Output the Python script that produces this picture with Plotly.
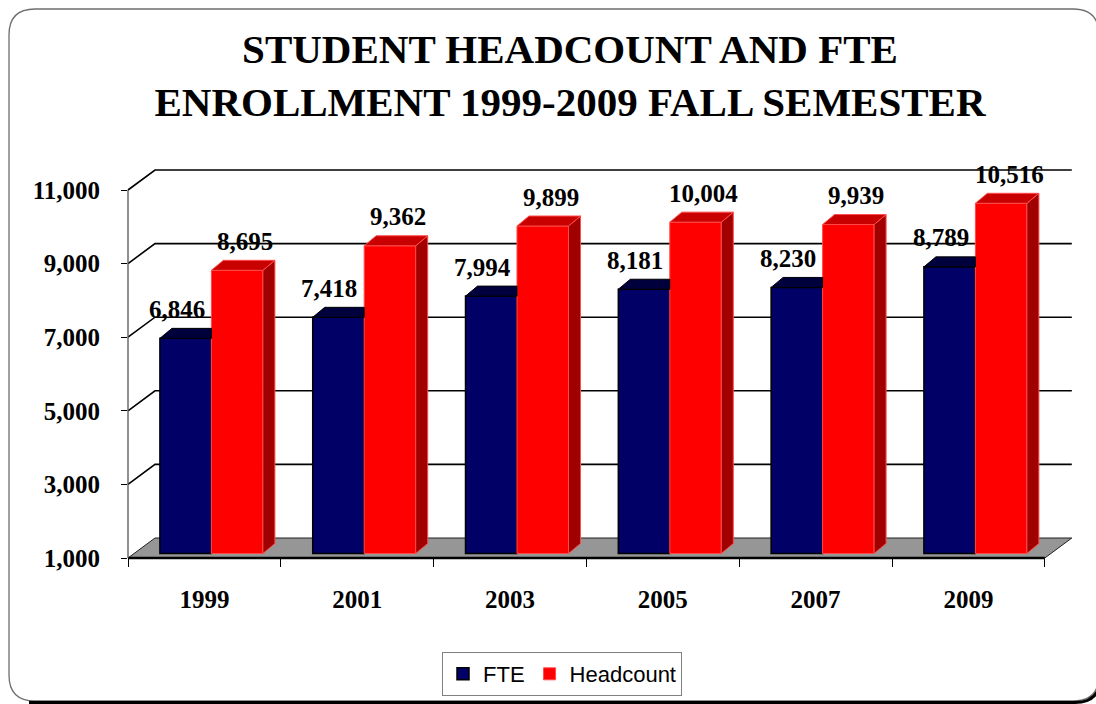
import plotly.graph_objects as go

# ---- data -------------------------------------------------------------
years = ["1999", "2001", "2003", "2005", "2007", "2009"]
fte = [6846, 7418, 7994, 8181, 8230, 8789]
headcount = [8695, 9362, 9899, 10004, 9939, 10516]
y_ticks = [1000, 3000, 5000, 7000, 9000, 11000]

# ---- canvas / axis geometry ------------------------------------------
W, H = 1096, 704
M_L, M_R, M_T, M_B = 128, 21, 160, 146
PX_PER_CAT = 152.8        # pixels per category slot
PX_PER_1000 = 36.8        # pixels per 1,000 students
plot_w = W - M_L - M_R
plot_h = H - M_T - M_B

x_lo = -0.5
x_hi = x_lo + plot_w / PX_PER_CAT
y_lo = 1000
y_hi = y_lo + plot_h / PX_PER_1000 * 1000


def ddx(px):
    return px / PX_PER_CAT


def ddy(px):
    return px / PX_PER_1000 * 1000


# oblique depth of the floor / back wall and of the bars
FLOOR_DX, FLOOR_DY = ddx(27), ddy(20)
BAR_OFF_X, BAR_OFF_Y = ddx(7), ddy(4.5)
BAR_DX, BAR_DY = ddx(12), ddy(10)
BAR_W = 0.337

n = len(years)
x_last = n - 0.5


# data -> paper coordinates (paper shapes are not clipped)
def xp(x):
    return (x - x_lo) / (x_hi - x_lo)


def yp(y):
    return (y - y_lo) / (y_hi - y_lo)


# pixel -> paper (for the outer frame)
def pxp(px):
    return (px - M_L) / plot_w


def pyp(py):
    return (H - M_B - py) / plot_h


SERIF = "Liberation Serif, Times New Roman, serif"
SANS = "Liberation Sans, Arial, sans-serif"

NAVY, NAVY_TOP = "#000066", "#00003c"
RED, RED_TOP, RED_SIDE, RED_EDGE = "#ff0000", "#c80000", "#a00000", "#ff4a4a"

fig = go.Figure()

xs = [i + BAR_OFF_X for i in range(n)]
base = y_lo + BAR_OFF_Y

# front faces of the bars
fig.add_trace(go.Bar(
    x=xs, y=[v - y_lo for v in fte], base=base, width=BAR_W, offset=-BAR_W,
    name="FTE", marker=dict(color=NAVY, line=dict(color="black", width=1.5)),
    hoverinfo="skip",
))
fig.add_trace(go.Bar(
    x=xs, y=[v - y_lo for v in headcount], base=base, width=BAR_W, offset=0,
    name="Headcount", marker=dict(color=RED, line=dict(color=RED_EDGE, width=1)),
    hoverinfo="skip",
))

# top faces of FTE bars (right part hidden behind the taller red bar)
fx, fy = [], []
for i, v in enumerate(fte):
    xl, xr, t = xs[i] - BAR_W, xs[i], v + BAR_OFF_Y
    fx += [xl, xr, xr, xl + BAR_DX, xl, None]
    fy += [t, t, t + BAR_DY, t + BAR_DY, t, None]
fig.add_trace(go.Scatter(x=fx, y=fy, mode="lines", fill="toself",
                         fillcolor=NAVY_TOP, line=dict(color="black", width=1),
                         showlegend=False, hoverinfo="skip"))

# top and side faces of Headcount bars
tx, ty, sx, sy = [], [], [], []
for i, v in enumerate(headcount):
    xl, xr, t = xs[i], xs[i] + BAR_W, v + BAR_OFF_Y
    tx += [xl, xr, xr + BAR_DX, xl + BAR_DX, xl, None]
    ty += [t, t, t + BAR_DY, t + BAR_DY, t, None]
    sx += [xr, xr, xr + BAR_DX, xr + BAR_DX, xr, None]
    sy += [base, t, t + BAR_DY, base + BAR_DY, base, None]
fig.add_trace(go.Scatter(x=sx, y=sy, mode="lines", fill="toself",
                         fillcolor=RED_SIDE, line=dict(color=RED_EDGE, width=1),
                         showlegend=False, hoverinfo="skip"))
fig.add_trace(go.Scatter(x=tx, y=ty, mode="lines", fill="toself",
                         fillcolor=RED_TOP, line=dict(color=RED_EDGE, width=1),
                         showlegend=False, hoverinfo="skip"))

# value labels
annotations = []
for i, v in enumerate(fte):
    annotations.append(dict(x=xs[i] - BAR_W / 2, y=v + BAR_OFF_Y, xref="x", yref="y",
                            text=f"{v:,}", showarrow=False, yanchor="middle",
                            yshift=29, xshift=-9,
                            font=dict(family=SERIF, size=25, color="black", weight="bold")))
for i, v in enumerate(headcount):
    annotations.append(dict(x=xs[i] + BAR_W / 2, y=v + BAR_OFF_Y, xref="x", yref="y",
                            text=f"{v:,}", showarrow=False, yanchor="middle",
                            yshift=29, xshift=8,
                            font=dict(family=SERIF, size=25, color="black", weight="bold")))

shapes = []


def pshape(path, **kw):
    d = dict(type="path", path=path, xref="paper", yref="paper", layer="below")
    d.update(kw)
    shapes.append(d)


# outer rounded frame with shadow along the bottom
fl, ft, fr, fb, rad = 9, 9, 1099, 701, 26
frame = (f"M{pxp(fl + rad)},{pyp(ft)} L{pxp(fr - rad)},{pyp(ft)} "
         f"Q{pxp(fr)},{pyp(ft)} {pxp(fr)},{pyp(ft + rad)} "
         f"L{pxp(fr)},{pyp(fb - rad)} Q{pxp(fr)},{pyp(fb)} {pxp(fr - rad)},{pyp(fb)} "
         f"L{pxp(fl + rad)},{pyp(fb)} Q{pxp(fl)},{pyp(fb)} {pxp(fl)},{pyp(fb - rad)} "
         f"L{pxp(fl)},{pyp(ft + rad)} Q{pxp(fl)},{pyp(ft)} {pxp(fl + rad)},{pyp(ft)} Z")
pshape(frame, line=dict(color="#6e6e6e", width=1.3), fillcolor="rgba(0,0,0,0)")
shadow = (f"M{pxp(fl + rad - 6)},{pyp(fb + 1.5)} L{pxp(fr - rad + 2)},{pyp(fb + 1.5)} "
          f"Q{pxp(fr + 2)},{pyp(fb + 1.5)} {pxp(fr + 2)},{pyp(fb - rad)}")
pshape(shadow, line=dict(color="black", width=3), fillcolor="rgba(0,0,0,0)")

# floor
floor = (f"M{xp(x_lo)},{yp(y_lo)} L{xp(x_last)},{yp(y_lo)} "
         f"L{xp(x_last + FLOOR_DX)},{yp(y_lo + FLOOR_DY)} "
         f"L{xp(x_lo + FLOOR_DX)},{yp(y_lo + FLOOR_DY)} Z")
pshape(floor, fillcolor="#969696", line=dict(color="#202020", width=1))
pshape(f"M{xp(x_lo)},{yp(y_lo)} L{xp(x_last)},{yp(y_lo)}",
       line=dict(color="black", width=2.5))

# back-wall gridlines and side-wall diagonals
for v in y_ticks[1:]:
    pshape(f"M{xp(x_lo)},{yp(v)} L{xp(x_lo + FLOOR_DX)},{yp(v + FLOOR_DY)} "
           f"L{xp(x_last + FLOOR_DX)},{yp(v + FLOOR_DY)}",
           line=dict(color="black", width=1.6))

# front vertical axis line
pshape(f"M{xp(x_lo)},{yp(y_lo)} L{xp(x_lo)},{yp(y_ticks[-1])}",
       line=dict(color="#555555", width=1.3))

fig.update_layout(
    width=W, height=H,
    margin=dict(l=M_L, r=M_R, t=M_T, b=M_B),
    paper_bgcolor="white", plot_bgcolor="white",
    barmode="overlay",
    shapes=shapes,
    annotations=annotations,
    title=dict(
        text="STUDENT HEADCOUNT AND FTE<br>ENROLLMENT 1999-2009 FALL SEMESTER",
        font=dict(family=SERIF, size=41, color="black", weight="bold"),
        x=570 / W, xanchor="center", xref="container",
        y=1 - 63 / H, yanchor="middle", yref="container",
    ),
    legend=dict(
        orientation="h", xref="container", yref="container",
        x=442 / W, xanchor="left", y=1 - 652 / H, yanchor="top",
        bordercolor="#808080", borderwidth=1, bgcolor="white",
        font=dict(family=SANS, size=22, color="black"),
    ),
    xaxis=dict(
        range=[x_lo, x_hi], tickvals=list(range(n)), ticktext=years,
        ticks="", showgrid=False, zeroline=False, showline=False,
        tickfont=dict(family=SERIF, size=25, color="black", weight="bold"),
        ticklabelstandoff=24,
        minor=dict(tickvals=[i - 0.5 for i in range(n + 1)], ticks="outside",
                   ticklen=8, tickwidth=1, tickcolor="black", showgrid=False),
    ),
    yaxis=dict(
        range=[y_lo, y_hi], tickvals=y_ticks, tickformat=",",
        ticks="outside", ticklen=6, tickwidth=1.3, tickcolor="black",
        showgrid=False, zeroline=False, showline=False,
        tickfont=dict(family=SERIF, size=25, color="black", weight="bold"),
        ticklabelstandoff=16,
    ),
)

fig.write_html("out.html")
